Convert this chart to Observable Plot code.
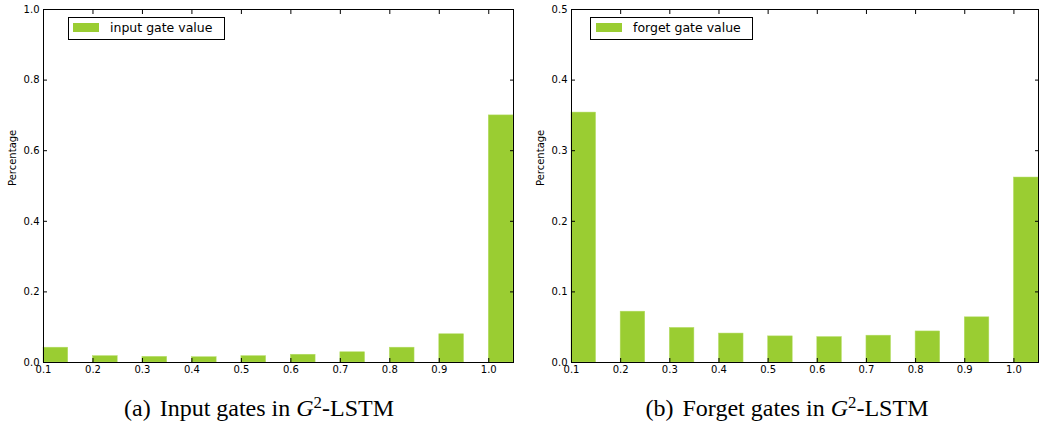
<!DOCTYPE html>
<html>
<head>
<meta charset="utf-8">
<script src="https://cdn.jsdelivr.net/npm/d3@7"></script>
<script src="https://cdn.jsdelivr.net/npm/@observablehq/plot@0.6"></script>
<style>
  html, body { margin: 0; padding: 0; background: #fff; }
  #wrap { position: relative; width: 1039px; height: 424px; overflow: hidden; }
  .panel { position: absolute; top: 0; }
  .legend { position: absolute; top: 17px; height: 21px; border: 1px solid #000; background: #fff;
            font-family: "DejaVu Sans", sans-serif; font-size: 12.5px; color: #000; }
  .legend .sw { position: absolute; top: 5px; width: 26px; height: 9px; background: #9acd32; }
  .legend .lt { position: absolute; top: 2px; white-space: nowrap; }
  .caption { position: absolute; top: 396px; font-family: "Liberation Serif", "Times New Roman", serif;
             font-size: 24px; line-height: 24px; color: #000; white-space: nowrap; transform: translateX(-50%); }
  .caption sup { font-size: 0.7em; vertical-align: 0.48em; line-height: 0; }
  .caption .gap { display: inline-block; width: 3px; }
</style>
</head>
<body>
<div id="wrap"></div>
<script>
// ---- data ----
const binStarts = [0.1, 0.2, 0.3, 0.4, 0.5, 0.6, 0.7, 0.8, 0.9, 1.0];
const binWidth = 0.05;
const inputGateValues  = [0.042, 0.018, 0.016, 0.015, 0.018, 0.022, 0.029, 0.042, 0.080, 0.700];
const forgetGateValues = [0.354, 0.072, 0.049, 0.041, 0.037, 0.036, 0.038, 0.044, 0.064, 0.262];
const xTicks = [0.1, 0.2, 0.3, 0.4, 0.5, 0.6, 0.7, 0.8, 0.9, 1.0];
const yTicksInput  = [0.0, 0.2, 0.4, 0.6, 0.8, 1.0];
const yTicksForget = [0.0, 0.1, 0.2, 0.3, 0.4, 0.5];
const yLabel = "Percentage";
const legendInput = "input gate value";
const legendForget = "forget gate value";
const captionA = '(a)<span class="gap"></span> Input gates in <i>G</i><sup>2</sup>-LSTM';
const captionB = '(b)<span class="gap"></span> Forget gates in <i>G</i><sup>2</sup>-LSTM';

const barColor = "#9acd32";
const fmt = d3.format(".1f");
const none = () => "";

function panel(values, yMax, yTicks, left, width, mLeft, mRight) {
  const rows = binStarts.map((x, i) => ({x1: x, x2: x + binWidth, y: values[i]}));
  const chart = Plot.plot({
    width, height: 380,
    marginTop: 9, marginBottom: 18, marginLeft: mLeft, marginRight: mRight,
    style: {fontFamily: "DejaVu Sans, sans-serif", fontSize: "10px", color: "#000", background: "transparent"},
    x: {domain: [0.1, 1.05]},
    y: {domain: [0, yMax]},
    marks: [
      Plot.rectY(rows, {x1: "x1", x2: "x2", y: "y", fill: barColor, stroke: "#b5dd66", strokeWidth: 0.5}),
      Plot.frame({stroke: "#000", strokeWidth: 1}),
      // inward ticks on four sides; labels on bottom and left
      Plot.axisX(xTicks, {anchor: "bottom", tickSize: -4, tickPadding: 7, tickFormat: fmt, label: null, stroke: "#000", fill: "#000"}),
      Plot.axisX(xTicks, {anchor: "top", tickSize: -4, tickFormat: none, label: null, stroke: "#000"}),
      Plot.axisY(yTicks, {anchor: "left", tickSize: -4, tickPadding: 8, tickFormat: fmt, label: null, stroke: "#000", fill: "#000"}),
      Plot.axisY(yTicks, {anchor: "right", tickSize: -4, tickFormat: none, label: null, stroke: "#000"}),
      Plot.text([yLabel], {frameAnchor: "left", text: d => d, rotate: -90, dx: -31, fontSize: 10, fill: "#000"})
    ]
  });
  const div = document.createElement("div");
  div.className = "panel";
  div.style.left = left + "px";
  div.appendChild(chart);
  return div;
}

function legend(label, left, width, swLeft, textLeft) {
  const d = document.createElement("div");
  d.className = "legend";
  d.style.left = left + "px";
  d.style.width = width + "px";
  const sw = document.createElement("div");
  sw.className = "sw"; sw.style.left = swLeft + "px";
  const t = document.createElement("div");
  t.className = "lt"; t.style.left = textLeft + "px"; t.textContent = label;
  d.appendChild(sw); d.appendChild(t);
  return d;
}

function caption(html, center) {
  const c = document.createElement("div");
  c.className = "caption";
  c.style.left = center + "px";
  c.innerHTML = html;
  return c;
}

const wrap = document.getElementById("wrap");
wrap.appendChild(panel(inputGateValues, 1.0, yTicksInput, 0, 520, 43, 7));
wrap.appendChild(panel(forgetGateValues, 0.5, yTicksForget, 520, 519, 51, 1));
wrap.appendChild(legend(legendInput, 68, 155, 4, 41));
wrap.appendChild(legend(legendForget, 590, 161, 5, 42));
wrap.appendChild(caption(captionA, 259));
wrap.appendChild(caption(captionB, 787));
</script>
</body>
</html>
